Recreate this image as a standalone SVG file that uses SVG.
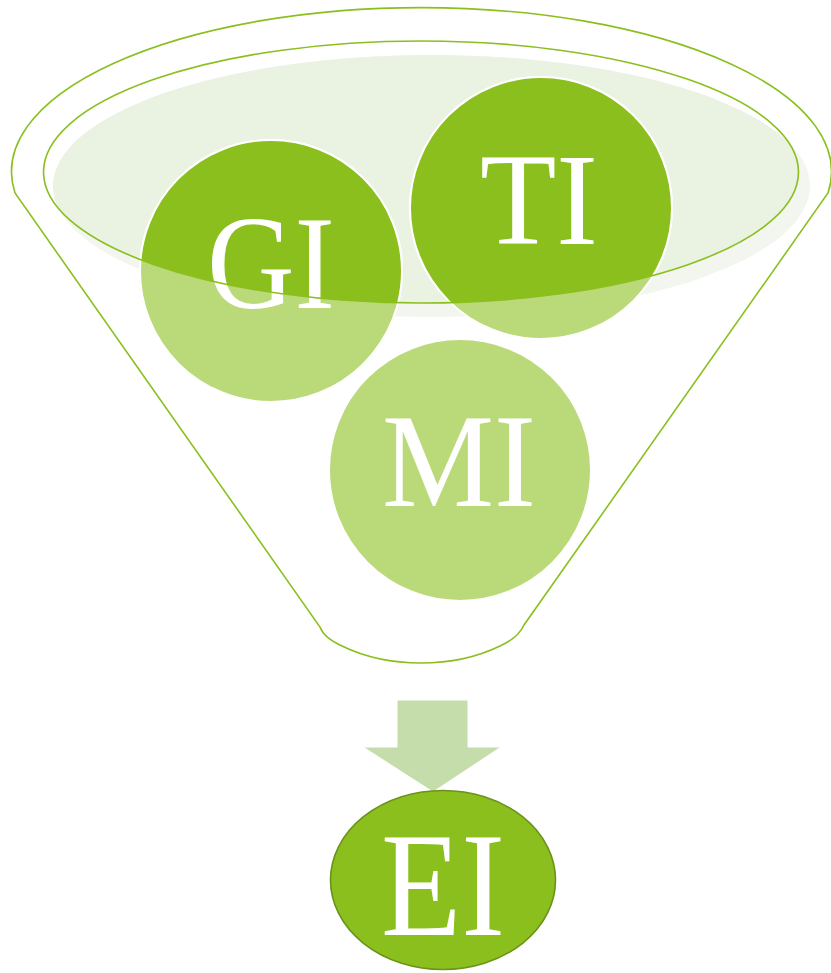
<svg xmlns="http://www.w3.org/2000/svg" width="831" height="973" viewBox="0 0 831 973">
<style>
.line{fill:none;stroke:#8BBF1E;stroke-width:1.6}
.lbl{font-family:"Liberation Serif","Times New Roman",serif;fill:#FFFFFF;text-anchor:middle}
.dark{fill:#8BBF1E;stroke:#FFFFFF;stroke-width:2}
.light{fill:#BADA7A;stroke:#FFFFFF;stroke-width:2}
</style>
<defs>
<clipPath id="inner"><ellipse cx="421" cy="172" rx="377.5" ry="131"/></clipPath>
</defs>
<rect width="831" height="973" fill="#FFFFFF"/>
<g id="funnel-back">
<ellipse cx="431.5" cy="186" rx="378.5" ry="131" fill="#F2F6EE"/>
<ellipse cx="431.5" cy="186" rx="378.5" ry="131" fill="#EAF2E2" clip-path="url(#inner)"/>
</g>
<g id="GI">
<circle class="light" cx="271" cy="271" r="131"/>
<circle class="dark" cx="271" cy="271" r="131" clip-path="url(#inner)"/>
<text class="lbl" x="271" y="308" font-size="134" textLength="128" lengthAdjust="spacingAndGlyphs">GI</text>
</g>
<g id="TI">
<circle class="light" cx="541" cy="208" r="131"/>
<circle class="dark" cx="541" cy="208" r="131" clip-path="url(#inner)"/>
<text class="lbl" x="539" y="244" font-size="132" textLength="118" lengthAdjust="spacingAndGlyphs">TI</text>
</g>
<g id="MI">
<circle class="light" cx="460" cy="470" r="131"/>
<text class="lbl" x="459" y="506" font-size="133" textLength="154" lengthAdjust="spacingAndGlyphs">MI</text>
</g>
<g id="funnel">
<ellipse class="line" cx="421" cy="172" rx="377.5" ry="131"/>
<path class="line" d="M15,193 A410,164 0 1 1 828,193 L524,625 Q518,638 500,646 Q465,663 421,663 Q377,663 342,646 Q324,638 320,627 Z"/>
</g>
<g id="connectors">
<path d="M397,700 L468,700 L468,747 L501,747 L433,792 L363,747 L397,747 Z" fill="#C5DCAB" stroke="#FFFFFF" stroke-width="1"/>
</g>
<g id="EI">
<ellipse cx="443" cy="880" rx="112.5" ry="89.5" fill="#8BBF1E" stroke="#6B9319" stroke-width="1.6"/>
<text class="lbl" x="443" y="935" font-size="148" textLength="124" lengthAdjust="spacingAndGlyphs">EI</text>
</g>
</svg>
